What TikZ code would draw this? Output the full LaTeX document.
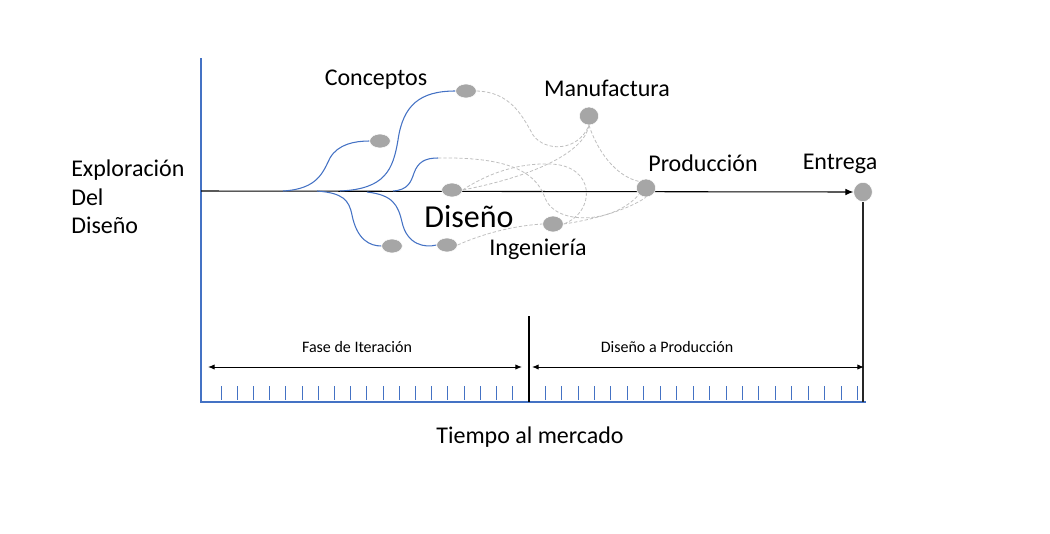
\documentclass[tikz,border=0pt]{standalone}
\usepackage{fontspec}
\setmainfont{Carlito}
\usetikzlibrary{arrows.meta,shapes.geometric,backgrounds}
\definecolor{axisblue}{HTML}{4472C4}
\definecolor{dotgray}{HTML}{A6A6A6}
\definecolor{dashgray}{HTML}{BFBFBF}
\begin{document}
\begin{tikzpicture}[x=0.75pt,y=-0.75pt,
  dot/.style={ellipse,fill=dotgray,draw=white,line width=0.4pt,inner sep=0pt,minimum width=15.5pt,minimum height=10.5pt},
  bigdot/.style={dot,minimum width=14.5pt,minimum height=13.5pt},
  lbl/.style={font=\fontsize{18}{21}\selectfont,inner sep=0pt},
  biglbl/.style={font=\fontsize{24}{28}\selectfont,inner sep=0pt},
  smalllbl/.style={font=\fontsize{12}{14}\selectfont,inner sep=0pt},
  branch/.style={draw=axisblue,line width=0.8pt},
  link/.style={draw=dashgray,dashed,dash pattern=on 2.5pt off 1.5pt,line width=0.6pt},
  axisline/.style={draw=axisblue,line width=0.8pt},
  mainline/.style={draw=black,line width=0.8pt},
  span/.style={draw=black,line width=0.7pt,{Latex[length=5pt,width=4pt]}-{Latex[length=5pt,width=4pt]}}
]
\useasboundingbox (0,0) rectangle (1050,533);

% nodes
\node[dot] (c1) at (380,141) {};
\node[dot] (c2) at (466,91) {};
\node[dot] (d0) at (452,190) {};
\node[dot] (b1) at (392,246) {};
\node[dot] (b2) at (447,245) {};
\node[bigdot] (man) at (589,116) {};
\node[bigdot] (prod) at (646,188) {};
\node[dot,minimum height=12pt] (ing) at (553,224) {};
\node[dot,minimum width=14pt,minimum height=14.5pt] (ent) at (863,192) {};

% labels
\node[lbl] (lcon) at (376,80) {Conceptos};
\node[lbl] (lman) at (607,88) {Manufactura};
\node[lbl] (lprod) at (703,163) {Producción};
\node[lbl] (lent) at (840,164) {Entrega};
\node[biglbl] (ldis) at (469,217) {Diseño};
\node[lbl] (ling) at (538,249) {Ingeniería};
\node[lbl,anchor=base west] (lexp1) at (71,176) {Exploración};
\node[lbl,anchor=base west] (lexp2) at (71,205) {Del};
\node[lbl,anchor=base west] (lexp3) at (71,233) {Diseño};
\node[smalllbl] (lfase) at (357,347) {Fase de Iteración};
\node[smalllbl] (ldap) at (667,347) {Diseño a Producción};
\node[lbl] (ltiempo) at (530,437) {Tiempo al mercado};

% coordinates
\coordinate (ytop) at (201,58);
\coordinate (orig) at (201,402);
\coordinate (xend) at (866,402);
\coordinate (o) at (201,191);
\coordinate (s1) at (283,191);
\coordinate (s2) at (340,191);
\coordinate (s3) at (393,191);
\coordinate (s4) at (317,191);
\coordinate (s5) at (367,192);
\coordinate (c3) at (438,158);
\coordinate (divtop) at (529,316);
\coordinate (divbot) at (529,402);
\coordinate (a1) at (208,367);
\coordinate (a2) at (522,367);
\coordinate (a3) at (532,367);
\coordinate (a4) at (864,367);

\begin{scope}[on background layer]
% axes
\draw[axisline] (ytop) -- (orig) -- (xend);
\foreach \i in {0,...,19} \draw[axisline,line width=0.6pt] ({221+16.2*\i},386) -- ++(0,14);
\foreach \i in {0,...,19} \draw[axisline,line width=0.6pt] ({545+16.45*\i},386) -- ++(0,14);
\draw[black,line width=0.8pt] (divtop) -- (divbot);
\draw[black!85,line width=0.9pt] (ent.south) -- (ent.south |- orig);
\draw[span] (a1) -- (a2);
\draw[span] (a3) -- (a4);

% main line
\draw[mainline,-{Latex[length=6pt,width=5pt]}] (o) -- (ent.west);

% blue branches
\draw[branch] (s1) .. controls (318,189) and (323,172) .. (330,158) .. controls (338,144) and (355,141) .. (c1.west);
\draw[branch] (s2) .. controls (385,189) and (393,170) .. (398,140) .. controls (403,105) and (420,91) .. (c2.west);
\draw[branch] (s3) .. controls (408,190) and (411,182) .. (414,173) .. controls (418,162) and (425,158) .. (c3);
\draw[branch] (s4) .. controls (343,193) and (349,200) .. (352,215) .. controls (357,240) and (370,246) .. (b1.west);
\draw[branch] (s5) .. controls (393,195) and (398,205) .. (402,222) .. controls (407,245) and (425,248) .. (b2.west);

% dashed links
\draw[link] (c2.east) .. controls (510,92) and (522,115) .. (533,135) .. controls (545,152) and (578,152) .. (man.south);
\draw[link] (man.south) .. controls (585,150) and (540,175) .. (d0.east);
\draw[link] (man.south) .. controls (597,150) and (615,176) .. (prod.north west);
\draw[link] (c3) .. controls (500,157) and (535,168) .. (545,198) .. controls (555,225) and (612,225) .. (prod.south west);
\draw[link] (d0.east) .. controls (490,172) and (520,163) .. (550,164) .. controls (596,165) and (596,212) .. (ing.east);
\draw[link] (ing.east) .. controls (592,220) and (628,210) .. (prod.south);
\draw[link] (b2.east) .. controls (480,235) and (510,226) .. (ing.west);
\end{scope}
\end{tikzpicture}
\end{document}
